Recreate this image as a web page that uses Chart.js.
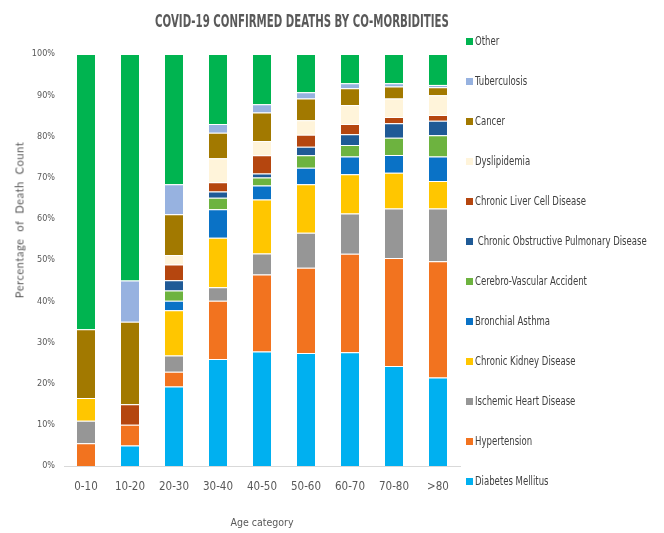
<!DOCTYPE html>
<html>
<head>
<meta charset="utf-8">
<script src="https://cdn.jsdelivr.net/npm/chart.js@4"></script>
<style>
  html, body { margin: 0; padding: 0; background: #fff; }
  .wrap { position: relative; width: 664px; height: 533px; }
  #chart { position: absolute; left: 0; top: 0; }
  .title {
    position: absolute; left: 302px; top: 20px;
    transform: translate(-50%, -50%) scaleX(0.63);
    font: bold 18px "Liberation Sans Narrow", "DejaVu Sans Condensed", sans-serif;
    color: #595959; white-space: pre;
  }
  .ytitle {
    position: absolute; left: 19px; top: 220px;
    transform: translate(-50%, -50%) rotate(-90deg);
    font: 400 11px "Lato", "DejaVu Sans", sans-serif; letter-spacing: 0.6px; color: #595959; white-space: pre;
  }
  .legend {
    position: absolute; left: 466px; top: 0;
    font: 12px "Liberation Sans Narrow", "DejaVu Sans Condensed", sans-serif; color: #404040;
  }
  .legend div { position: absolute; left: 0; white-space: pre; line-height: 14px; }
  .legend i { display: inline-block; width: 7px; height: 7px; margin-right: 2px; }
  .legend span { display: inline-block; transform: scaleX(0.79); transform-origin: left center; }
</style>
</head>
<body>
<div class="wrap">
  <canvas id="chart" width="664" height="533"></canvas>
  <div class="title">COVID-19 CONFIRMED DEATHS BY CO-MORBIDITIES</div>
  <div class="ytitle">Percentage  of  Death  Count</div>
  <div class="legend" id="legend"></div>
</div>
<script>
// age groups
const ageGroups = ['0-10', '10-20', '20-30', '30-40', '40-50', '50-60', '60-70', '70-80', '>80'];

// % of deaths per co-morbidity
const diabetes     = [0,    5,    19.3, 26.0, 27.8, 27.4, 27.6, 24.3, 21.5];
const hypertension = [5.5,  5,    3.6,  14.1, 18.7, 20.7, 23.9, 26.2, 28.2];
const ischemic     = [5.5,  0,    3.9,  3.3,  5.1,  8.5,  9.8,  12.0, 12.8];
const kidney       = [5.5,  0,    11.0, 12.0, 13.1, 11.8, 9.5,  8.7,  6.7];
const asthma       = [0,    0,    2.3,  6.9,  3.4,  4.0,  4.3,  4.3,  5.9];
const cva          = [0,    0,    2.5,  2.8,  1.9,  3.0,  2.8,  4.2,  5.2];
const copd         = [0,    0,    2.5,  1.5,  1.0,  2.1,  2.6,  3.5,  3.5];
const liver        = [0,    5,    3.8,  2.3,  4.4,  2.9,  2.5,  1.5,  1.4];
const dyslipidemia = [0,    0,    2.3,  5.8,  3.5,  3.5,  4.6,  4.5,  4.8];
const cancer       = [16.7, 20,   9.9,  6.2,  6.9,  5.3,  4.1,  2.9,  1.9];
const tuberculosis = [0,    10,   7.3,  2.1,  2.0,  1.5,  1.2,  0.8,  0.6];
const other        = [66.8, 55,   31.6, 17.0, 12.2, 9.3,  7.1,  7.1,  7.5];

const yTicks = [0, 10, 20, 30, 40, 50, 60, 70, 80, 90, 100];

const series = [
  { label: 'Diabetes Mellitus', data: diabetes, color: '#00B0F0' },
  { label: 'Hypertension', data: hypertension, color: '#F2731F' },
  { label: 'Ischemic Heart Disease', data: ischemic, color: '#969696' },
  { label: 'Chronic Kidney Disease', data: kidney, color: '#FFC600' },
  { label: 'Bronchial Asthma', data: asthma, color: '#0A72C6' },
  { label: 'Cerebro-Vascular Accident', data: cva, color: '#6DB33F' },
  { label: ' Chronic Obstructive Pulmonary Disease', data: copd, color: '#1F5A96' },
  { label: 'Chronic Liver Cell Disease', data: liver, color: '#B5460F' },
  { label: 'Dyslipidemia', data: dyslipidemia, color: '#FFF4DA' },
  { label: 'Cancer', data: cancer, color: '#A27900' },
  { label: 'Tuberculosis', data: tuberculosis, color: '#97B2E0' },
  { label: 'Other', data: other, color: '#00B450' },
];

const narrow = '"Liberation Sans Narrow", "DejaVu Sans Condensed", sans-serif';

new Chart(document.getElementById('chart'), {
  type: 'bar',
  data: {
    labels: ageGroups,
    datasets: series.map(s => ({
      label: s.label, data: s.data,
      backgroundColor: s.color, borderColor: 'rgba(255,255,255,0.35)', borderWidth: { top: 1 },
      borderSkipped: false,
      categoryPercentage: 1, barPercentage: 0.41
    }))
  },
  options: {
    responsive: false, animation: false,
    layout: { padding: { left: 0, right: 204, top: 54, bottom: 0 } },
    plugins: {
      legend: { display: false },
      tooltip: { enabled: false },
      title: { display: false }
    },
    scales: {
      x: {
        stacked: true,
        afterFit: s => { s.height = 67; },
        grid: { display: false, drawTicks: false },
        border: { display: true, color: '#d9d9d9' },
        ticks: { color: '#595959', font: { family: narrow, size: 11.5 }, padding: 14 },
        title: { display: true, text: 'Age category', color: '#595959', font: { family: narrow, size: 10.5 }, padding: { top: 24, bottom: 3 } }
      },
      y: {
        stacked: true, min: 0, max: 100,
        afterFit: s => { s.width = 64; },
        afterBuildTicks: s => { s.ticks = yTicks.map(v => ({ value: v })); },
        grid: { display: false, drawTicks: false },
        border: { display: false },
        ticks: { color: '#595959', font: { family: narrow, size: 9 }, padding: 9, callback: v => v + '%' }
      }
    }
  }
});

// legend, top to bottom = reverse stack order
const legendEl = document.getElementById('legend');
series.slice().reverse().forEach((s, i) => {
  const d = document.createElement('div');
  d.style.top = (34 + i * 40) + 'px';
  d.innerHTML = `<i style="background:${s.color}"></i><span>${s.label}</span>`;
  legendEl.appendChild(d);
});
</script>
</body>
</html>
